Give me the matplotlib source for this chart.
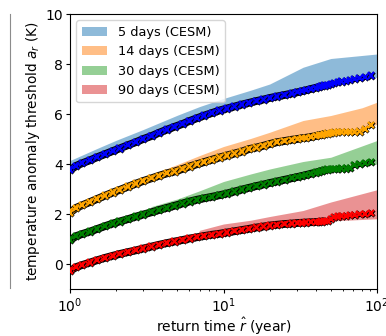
import matplotlib
matplotlib.use("Agg")
import matplotlib.pyplot as plt
import matplotlib.patheffects as pe
from matplotlib.lines import Line2D
import numpy as np

# return times of the empirical points (years)
r_pts = [1.0, 1.1, 1.2, 1.35, 1.5, 1.7, 1.9, 2.1, 2.4, 2.7, 3.0, 3.4, 3.8, 4.3, 4.8,
         5.4, 6.0, 6.7, 7.5, 8.4, 9.4, 10.5, 11.8, 13.2, 14.7, 16.4, 18.2, 20.0,
         22.2, 25.0, 27.8, 30.3, 32.3, 34.5, 37.0, 40.0, 41.7, 43.5, 45.5, 47.6,
         50.0, 52.6, 55.6, 58.8, 62.5, 66.7, 71.4, 76.9, 83.3, 90.9]

a_5d = [3.75, 3.93, 4.03, 4.15, 4.27, 4.40, 4.52, 4.62, 4.76, 4.88, 5.00, 5.12, 5.25,
        5.38, 5.49, 5.60, 5.72, 5.83, 5.94, 6.04, 6.14, 6.22, 6.30, 6.38, 6.45, 6.52,
        6.58, 6.64, 6.70, 6.76, 6.82, 6.87, 6.91, 6.95, 7.00, 7.05, 7.08, 7.11, 7.14,
        7.17, 7.20, 7.23, 7.27, 7.30, 7.33, 7.37, 7.41, 7.45, 7.49, 7.54]
a_14d = [2.05, 2.25, 2.35, 2.48, 2.60, 2.74, 2.86, 2.96, 3.10, 3.22, 3.32, 3.43, 3.53,
         3.63, 3.70, 3.80, 3.90, 3.99, 4.08, 4.17, 4.26, 4.34, 4.42, 4.50, 4.60, 4.66,
         4.73, 4.80, 4.87, 4.92, 4.97, 5.00, 5.03, 5.05, 5.08, 5.12, 5.15, 5.17, 5.20,
         5.22, 5.24, 5.26, 5.27, 5.28, 5.28, 5.29, 5.29, 5.30, 5.40, 5.56]
a_30d = [0.95, 1.12, 1.20, 1.30, 1.40, 1.52, 1.62, 1.70, 1.80, 1.90, 1.98, 2.07, 2.16,
         2.25, 2.33, 2.42, 2.50, 2.57, 2.63, 2.69, 2.75, 2.82, 2.90, 2.98, 3.05, 3.12,
         3.18, 3.24, 3.30, 3.37, 3.43, 3.48, 3.52, 3.56, 3.61, 3.66, 3.69, 3.72, 3.75,
         3.78, 3.80, 3.80, 3.81, 3.82, 3.82, 3.83, 3.95, 3.99, 4.04, 4.07]
a_90d = [-0.28, -0.12, -0.04, 0.06, 0.15, 0.25, 0.33, 0.40, 0.48, 0.55, 0.62, 0.70, 0.77,
         0.84, 0.90, 0.96, 1.02, 1.07, 1.12, 1.17, 1.21, 1.26, 1.31, 1.36, 1.41, 1.46,
         1.50, 1.54, 1.57, 1.60, 1.62, 1.64, 1.65, 1.66, 1.67, 1.68, 1.69, 1.70, 1.71,
         1.72, 1.80, 1.88, 1.90, 1.92, 1.93, 1.95, 1.97, 1.99, 2.01, 2.04]

# CESM ranges (shaded)
r_5d_band = [1.0, 1.5, 2.0, 3.0, 5.0, 7.0, 10.0, 15.0, 20.0, 33.0, 50.0, 100.0]
lo_5d = [3.70, 4.20, 4.50, 4.95, 5.50, 5.85, 6.15, 6.45, 6.60, 6.90, 7.15, 7.47]
hi_5d = [4.14, 4.62, 4.95, 5.38, 5.95, 6.30, 6.62, 6.95, 7.20, 7.87, 8.22, 8.40]

r_14d_band = [1.0, 1.5, 2.0, 3.0, 5.0, 7.0, 10.0, 15.0, 20.0, 33.0, 50.0, 80.0, 100.0]
lo_14d = [2.00, 2.55, 2.85, 3.25, 3.70, 3.98, 4.28, 4.58, 4.75, 5.00, 5.20, 5.30, 5.60]
hi_14d = [2.18, 2.74, 3.05, 3.45, 3.98, 4.34, 4.70, 5.02, 5.27, 5.74, 5.94, 6.25, 6.47]

r_30d_band = [1.0, 2.0, 3.0, 3.4, 5.0, 7.0, 10.0, 15.0, 20.0, 33.0, 50.0, 100.0]
lo_30d = [0.95, 1.70, 1.95, 2.05, 2.35, 2.60, 2.78, 3.05, 3.20, 3.50, 3.75, 4.00]
hi_30d = [1.05, 1.80, 2.05, 2.30, 2.60, 2.93, 3.30, 3.60, 3.80, 4.10, 4.27, 4.94]

r_90d_band = [6.5, 7.0, 10.0, 15.0, 20.0, 33.0, 50.0, 100.0]
lo_90d = [1.05, 1.08, 1.24, 1.40, 1.52, 1.64, 1.72, 1.81]
hi_90d = [1.05, 1.35, 1.60, 1.75, 1.90, 2.14, 2.48, 2.97]

labels = ["5 days (CESM)", "14 days (CESM)", "30 days (CESM)", "90 days (CESM)"]
fill_colors = ["C0", "C1", "C2", "C3"]
mark_colors = ["blue", "orange", "green", "red"]

fig = plt.figure(figsize=(3.86, 3.36), dpi=100)
ax = fig.add_axes([70 / 386, 47 / 336, 307 / 386, 275 / 336])

bands = [(r_5d_band, lo_5d, hi_5d), (r_14d_band, lo_14d, hi_14d),
         (r_30d_band, lo_30d, hi_30d), (r_90d_band, lo_90d, hi_90d)]
for (rb, lo, hi), fc, lab in zip(bands, fill_colors, labels):
    ax.fill_between(rb, lo, hi, color=fc, alpha=0.5, lw=0, label=lab)

r_arr = np.array(r_pts)
for a, mc in zip([a_5d, a_14d, a_30d, a_90d], mark_colors):
    a = np.array(a)
    m = r_arr <= 46
    ax.plot(r_arr[m], a[m], color=mc, lw=4.2, solid_capstyle='butt', zorder=3,
            path_effects=[pe.Stroke(linewidth=5.6, foreground='k'), pe.Normal()])
    ax.plot(r_arr, a, ls='none', marker='x', ms=4.5, mew=1.6, color=mc, zorder=4,
            path_effects=[pe.Stroke(linewidth=2.2, foreground='k'), pe.Normal()])

ax.set_xscale('log')
ax.set_xlim(1, 100)
ax.set_ylim(-1, 10)
ax.set_yticks([0, 2, 4, 6, 8, 10])
ax.set_xlabel(r"return time $\hat{r}$ (year)", fontsize=10, labelpad=1.0)
ax.set_ylabel(r"temperature anomaly threshold $a_r$ (K)", fontsize=9.8, labelpad=2.5)
ax.tick_params(which='major', labelsize=10, length=2.6, pad=2.6)
ax.tick_params(which='minor', length=1.5)
ax.legend(loc='upper left', fontsize=9.3, handlelength=2.0, borderaxespad=0.5)

fig.add_artist(Line2D([9.5 / 386, 9.5 / 386], [48 / 336, 322 / 336], color='0.55', lw=0.8))

fig.savefig("out.png", dpi=100)
